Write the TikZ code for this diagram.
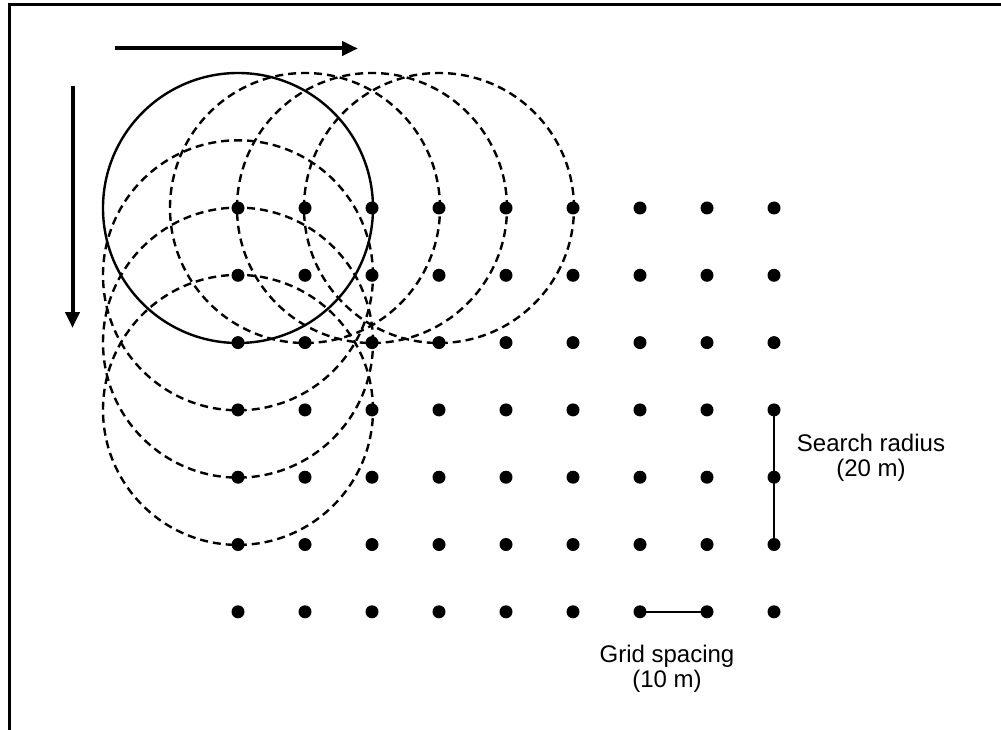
\documentclass[tikz,border=0pt]{standalone}
\usepackage{fontspec}
\setmainfont{Liberation Sans}
\usetikzlibrary{arrows.meta,backgrounds}
\tikzset{
  dot/.style={circle,fill=black,inner sep=0pt,minimum size=13pt},
  frameline/.style={line width=3pt},
  bigarrow/.style={line width=4pt,-{Triangle[length=16pt,width=14pt]}},
  searchcircle/.style={line width=2.4pt},
  dashcircle/.style={line width=2.4pt,dash pattern=on 8pt off 5pt},
  scaleline/.style={line width=2.4pt},
  lbl/.style={font=\fontsize{24}{25}\selectfont,align=center,inner sep=0pt}
}
\begin{document}
\begin{tikzpicture}[x=1pt,y=-1pt]
\useasboundingbox (0,0) rectangle (1001,730);
% frame
\coordinate (fTL) at (9,4.5);
\coordinate (fTR) at (1001,4.5);
\coordinate (fBL) at (9,730);
\draw[frameline] (fTR) -- (fTL) -- (fBL);
% grid of dots
\foreach \i in {1,...,9}{
  \foreach \j in {1,...,7}{
    \node[dot] (d-\i-\j) at ({238+(\i-1)*67},{208+(\j-1)*67.3}) {};
  }
}
% circles
\begin{scope}[on background layer]
  \draw[searchcircle] (d-1-1.center) circle[radius=135pt];
  \foreach \c in {d-2-1,d-3-1,d-4-1,d-1-2,d-1-3,d-1-4}{
    \draw[dashcircle] (\c.center) circle[radius=135pt];
  }
  \draw[scaleline] (d-9-4.center) -- (d-9-6.center);
  \draw[scaleline] (d-7-7.center) -- (d-8-7.center);
\end{scope}
% arrows
\coordinate (hA) at (115,48.5);
\coordinate (hB) at (358,48.5);
\coordinate (vA) at (72.5,86);
\coordinate (vB) at (72.5,328);
\draw[bigarrow] (hA) -- (hB);
\draw[bigarrow] (vA) -- (vB);
% labels
\node[lbl,anchor=north] (sr) at (871,434) {Search radius\\(20 m)};
\node[lbl,anchor=north] (gs) at (667,645) {Grid spacing\\(10 m)};
\end{tikzpicture}
\end{document}
